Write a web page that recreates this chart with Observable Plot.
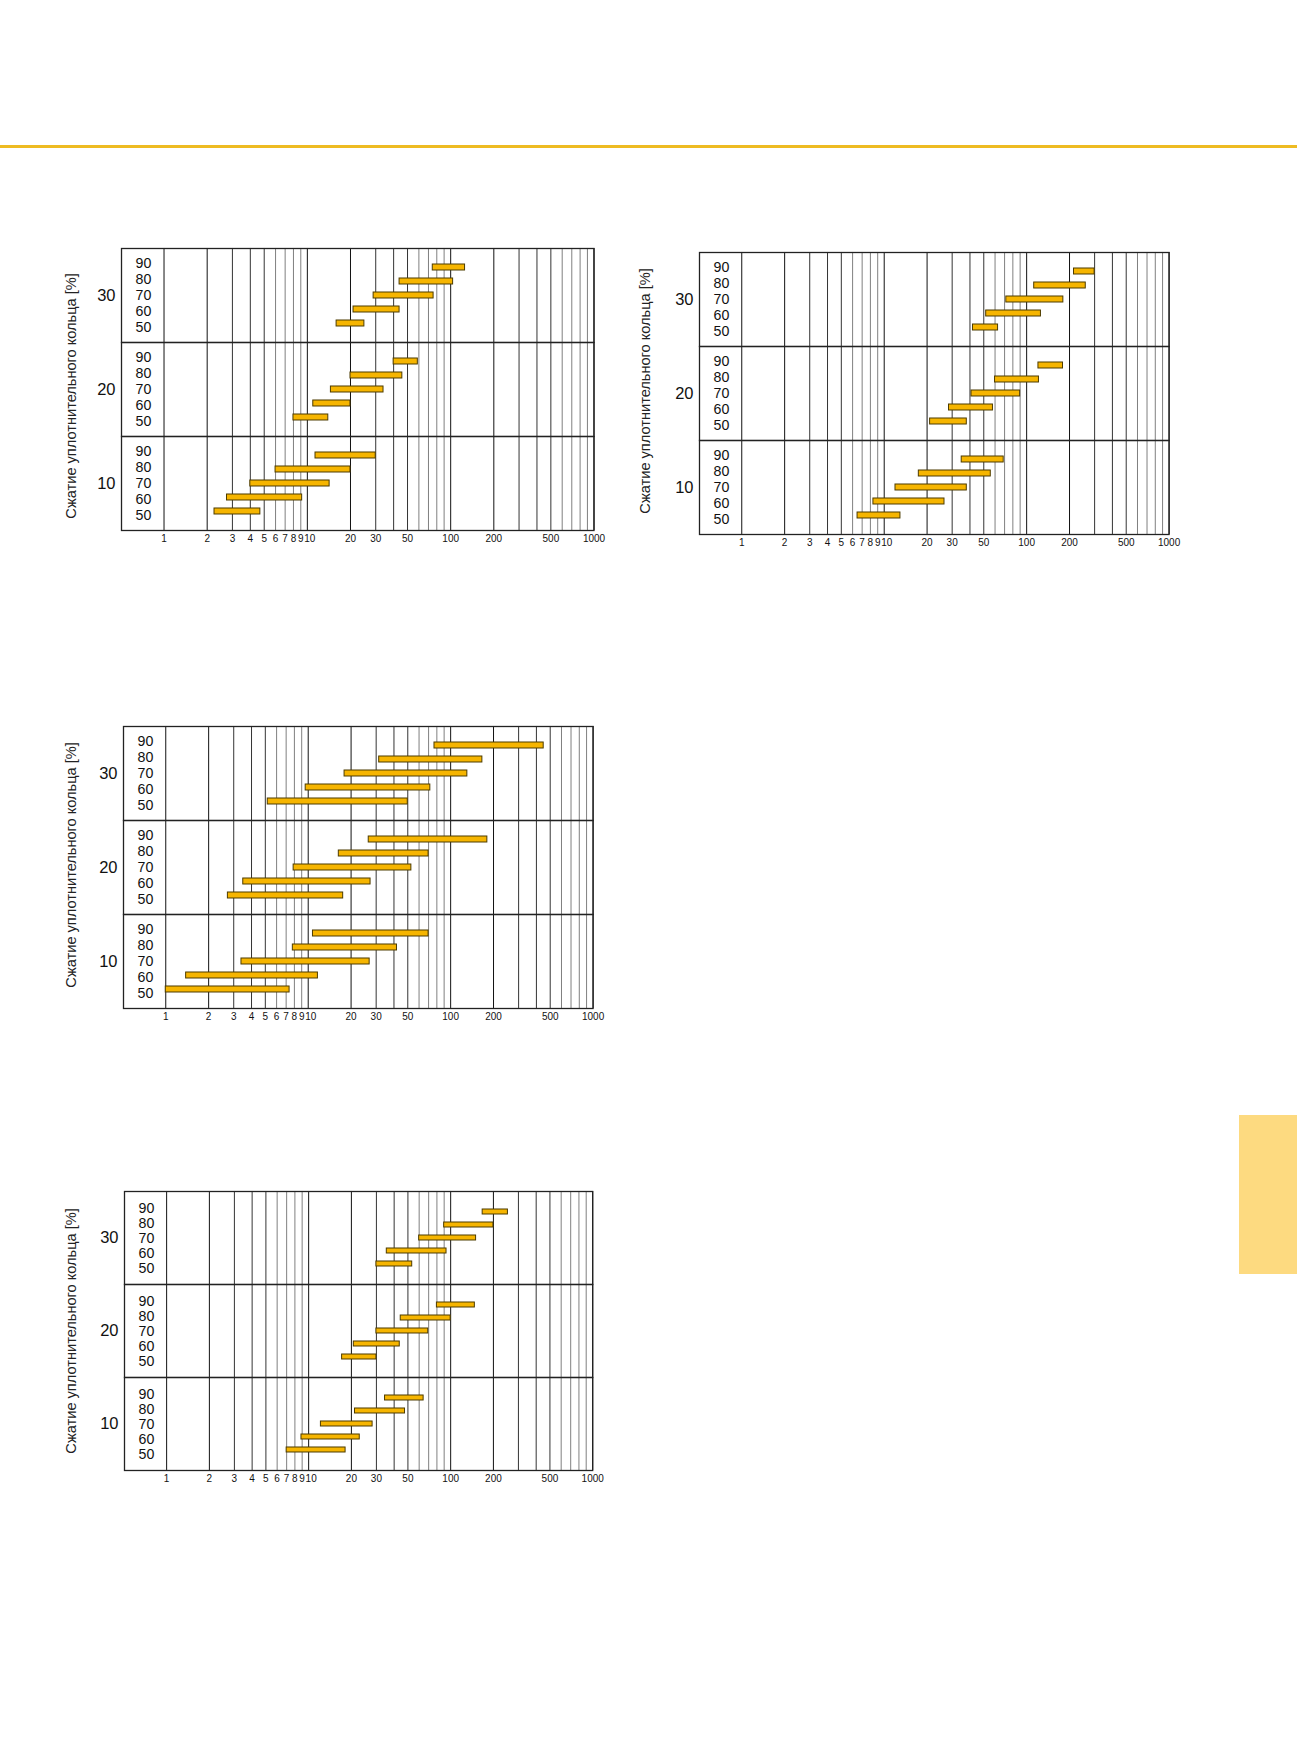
<!DOCTYPE html>
<html>
<head>
<meta charset="utf-8">
<script src="https://cdn.jsdelivr.net/npm/d3@7"></script>
<script src="https://cdn.jsdelivr.net/npm/@observablehq/plot@0.6"></script>
<style>
  html, body { margin: 0; padding: 0; background: #fff; }
  body { width: 1297px; height: 1752px; position: relative; overflow: hidden;
         font-family: "Liberation Sans", Arial, Helvetica, sans-serif; color: #111; }
  .chart { position: absolute; }
  .overlay { position: absolute; pointer-events: none; }
  .ylab { position: absolute; white-space: nowrap; font-size: 14.6px; color: #222;
          transform: translate(-50%, -50%) rotate(-90deg); }
</style>
</head>
<body>
<div style="position:absolute;left:0;top:144.5px;width:1297px;height:3px;background:#EEBB22"></div>
<div style="position:absolute;left:1239px;top:1115px;width:58px;height:159px;background:#FDDA80"></div>
<div id="root"></div>
<script>
// ---- categories ----
const compressions = [30, 20, 10];          // сжатие уплотнительного кольца, %
const fillLevels = [90, 80, 70, 60, 50];    // row labels inside each band
const axisLabel = "Сжатие уплотнительного кольца [%]";

// ---- x axis tick labels and grid lines ----
const xTickLabels = [1, 2, 3, 4, 5, 6, 7, 8, 9, 10, 20, 30, 50, 100, 200, 500, 1000];
const gridLines = [1, 2, 3, 4, 5, 6, 7, 8, 9,
                   10, 20, 30, 40, 50, 60, 70, 80, 90,
                   100, 200, 300, 400, 500, 600, 700, 800, 900, 1000];

// ---- series values (order: 30/90..50, 20/90..50, 10/90..50) ----
const chart1From = [75, 44, 29, 21, 16,   40, 20, 14.6, 11, 8,    11.4, 6, 4, 2.75, 2.25];
const chart1To   = [126, 104, 76, 44, 25, 59, 46, 34, 20, 14,     30, 20, 14.3, 9.2, 4.7];

const chart2From = [215, 113, 72, 52, 42,  121, 60, 41, 28.5, 21, 35, 17.5, 12, 8.4, 6.5];
const chart2To   = [300, 260, 181, 126, 63, 180, 122, 90, 58, 38, 69, 56, 38, 26.5, 13];

const chart3From = [77, 31.5, 18, 9.6, 5.2, 26.6, 16.4, 7.9, 3.5, 2.73, 10.8, 7.8, 3.4, 1.39, 1.0];
const chart3To   = [450, 167, 131, 72, 50,  181, 70, 53, 27.4, 17.6,    70, 42, 27, 11.7, 7.4];

const chart4From = [168, 90, 60, 35.5, 30,  80, 44.5, 30, 20.8, 17.2,   34.5, 21.2, 12.2, 8.9, 7];
const chart4To   = [253, 200, 151, 93.5, 53.6, 148, 100, 69.5, 43.8, 30, 64.5, 47.7, 28.2, 22.9, 18.2];

// ---- layout (frame boxes on the page) ----
const layouts = [
  {from: chart1From, to: chart1To, left: 120.7, top: 247.3, w: 472.5, h: 284.4, labX: 70.5, labY: 396},
  {from: chart2From, to: chart2To, left: 698.6, top: 251.7, w: 469.6, h: 282.6, labX: 645, labY: 391},
  {from: chart3From, to: chart3To, left: 122.5, top: 725.7, w: 469.6, h: 282.6, labX: 70.5, labY: 865},
  {from: chart4From, to: chart4To, left: 123.9, top: 1190.3, w: 468.2, h: 281.4, labX: 70.5, labY: 1331}
];

const FONT = '"Liberation Sans", Arial, Helvetica, sans-serif';
const leadDigit = d => Math.round(d / Math.pow(10, Math.floor(Math.log10(d) + 1e-9)));
const gridDark = gridLines.filter(d => leadDigit(d) <= 2);
const gridMid = gridLines.filter(d => leadDigit(d) >= 3 && leadDigit(d) <= 5);
const gridLight = gridLines.filter(d => leadDigit(d) >= 6);
const bottomBand = compressions[compressions.length - 1];

const mL = 45, mR = 12, mT = 4, mB = 24;
const root = document.getElementById("root");

layouts.forEach(L => {
  const rows = [];
  compressions.forEach((c, ci) => {
    fillLevels.forEach((p, pi) => {
      const k = ci * fillLevels.length + pi;
      rows.push({comp: c, pct: p, lo: L.from[k], hi: L.to[k]});
    });
  });
  const labelRows = compressions.flatMap(c => fillLevels.map(p => ({comp: c, pct: p})));

  const common = {
    width: L.w + mL + mR,
    height: L.h + mT + mB,
    marginLeft: mL, marginRight: mR, marginTop: mT, marginBottom: mB,
    style: {fontFamily: FONT, background: "transparent", overflow: "visible", color: "#111"},
    x: {type: "log", domain: [0.505, 1000], axis: null},
    fy: {domain: compressions, padding: 0}
  };

  const tickOpts = {x: d => d, fy: () => bottomBand, frameAnchor: "bottom", lineAnchor: "middle", dy: 8.8,
    text: d => String(d), fontSize: 10, textAnchor: "middle", fill: "#111"};

  // main chart: grid, frames, bars, band labels, x tick labels
  const chart = Plot.plot({
    ...common,
    y: {type: "band", domain: fillLevels, paddingInner: 0.59, paddingOuter: 1.13, axis: null},
    marks: [
      Plot.ruleX(gridLight, {stroke: "#808080", strokeWidth: 1}),
      Plot.ruleX(gridMid, {stroke: "#333", strokeWidth: 1}),
      Plot.ruleX(gridDark, {stroke: "#111", strokeWidth: 1}),
      Plot.frame({stroke: "#222", strokeWidth: 1.3}),
      Plot.barX(rows, {fy: "comp", y: "pct", x1: "lo", x2: "hi", fill: "#F6B500", stroke: "#4d3c00", strokeWidth: 1}),
      Plot.axisFy({anchor: "left", tickSize: 0, tickPadding: 6, fontSize: 16.5, label: null}),
      Plot.text(xTickLabels.filter(d => d !== 10), tickOpts),
      Plot.text(xTickLabels.filter(d => d === 10), {...tickOpts, dx: 2.5})
    ]
  });
  chart.classList.add("chart");
  chart.style.left = (L.left - mL) + "px";
  chart.style.top = (L.top - mT) + "px";
  root.appendChild(chart);

  // overlay: row labels 90..50 with their own (wider) vertical spacing
  const labels = Plot.plot({
    ...common,
    y: {type: "point", domain: fillLevels, padding: 0.93, axis: null},
    fy: {domain: compressions, padding: 0, axis: null},
    marks: [
      Plot.text(labelRows, {fy: "comp", y: "pct", text: d => String(d.pct), frameAnchor: "left", dx: 22,
        textAnchor: "middle", fontSize: 14.2, fill: "#111"})
    ]
  });
  labels.classList.add("overlay");
  labels.style.left = (L.left - mL) + "px";
  labels.style.top = (L.top - mT) + "px";
  root.appendChild(labels);

  const lab = document.createElement("div");
  lab.className = "ylab";
  lab.textContent = axisLabel;
  lab.style.left = L.labX + "px";
  lab.style.top = L.labY + "px";
  root.appendChild(lab);
});
</script>
</body>
</html>
